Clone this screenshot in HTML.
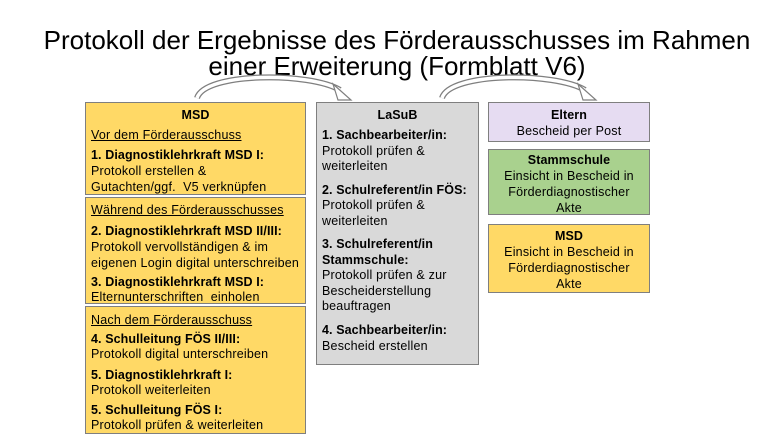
<!DOCTYPE html>
<html><head><meta charset="utf-8"><style>
body{margin:0;width:780px;height:439px;background:#fff;position:relative;overflow:hidden;font-family:"Liberation Sans",Arial,sans-serif;color:#000}
.box{position:absolute;box-sizing:border-box;border:1.5px solid #7f7f7f}
.t{position:absolute;font-size:12.5px;line-height:16px;white-space:nowrap;letter-spacing:0.2px}
.c{text-align:center}
b{font-weight:bold;letter-spacing:0.1px}
u{text-decoration:underline}
.title{position:absolute;left:0;width:794px;text-align:center;font-size:26px;line-height:28px}
</style></head><body>
<div class="title" style="top:26px">Protokoll der Ergebnisse des Förderausschusses im Rahmen</div>
<div class="title" style="top:52px">einer Erweiterung (Formblatt V6)</div>

<svg style="position:absolute;left:0;top:0" width="780" height="439">
<g fill="none" stroke-linecap="butt">
<path d="M197,98 C205,72 310,72 340,90" stroke="#7f7f7f" stroke-width="6"/>
<path d="M197,98 C205,72 310,72 340,90" stroke="#fff" stroke-width="3.5"/>
<path d="M442,98 C450,72 555,72 585,90" stroke="#7f7f7f" stroke-width="6"/>
<path d="M442,98 C450,72 555,72 585,90" stroke="#fff" stroke-width="3.5"/>
</g>
<polygon points="333,84 351,100 338,100" fill="#fff" stroke="#7f7f7f" stroke-width="1.2"/>
<polygon points="578,84 596,100 583,100" fill="#fff" stroke="#7f7f7f" stroke-width="1.2"/>
</svg>

<div class="box" style="left:85px;top:102px;width:221px;height:93px;background:#ffd966"></div>
<div class="box" style="left:85px;top:197px;width:221px;height:107px;background:#ffd966"></div>
<div class="box" style="left:85px;top:306px;width:221px;height:128px;background:#ffd966"></div>
<div class="box" style="left:316px;top:102px;width:163px;height:263px;background:#d9d9d9"></div>
<div class="box" style="left:488px;top:102px;width:162px;height:40px;background:#e6dcf2"></div>
<div class="box" style="left:488px;top:149px;width:162px;height:66px;background:#a9d18e"></div>
<div class="box" style="left:488px;top:224px;width:162px;height:69px;background:#ffd966"></div>

<div class="t c" style="left:85px;width:221px;top:107px"><b>MSD</b></div>
<div class="t" style="left:91px;top:127px"><u>Vor dem Förderausschuss</u></div>
<div class="t" style="left:91px;top:147px"><b>1. Diagnostiklehrkraft MSD I:</b></div>
<div class="t" style="left:91px;top:163px">Protokoll erstellen &amp;</div>
<div class="t" style="left:91px;top:179px">Gutachten/ggf.&nbsp; V5 verknüpfen</div>

<div class="t" style="left:91px;top:202px"><u>Während des Förderausschusses</u></div>
<div class="t" style="left:91px;top:223px"><b>2. Diagnostiklehrkraft MSD II/III:</b></div>
<div class="t" style="left:91px;top:239px">Protokoll vervollständigen &amp; im</div>
<div class="t" style="left:91px;top:255px">eigenen Login digital unterschreiben</div>
<div class="t" style="left:91px;top:274px"><b>3. Diagnostiklehrkraft MSD I:</b></div>
<div class="t" style="left:91px;top:289px">Elternunterschriften&nbsp; einholen</div>

<div class="t" style="left:91px;top:312px"><u>Nach dem Förderausschuss</u></div>
<div class="t" style="left:91px;top:331px"><b>4. Schulleitung FÖS II/III:</b></div>
<div class="t" style="left:91px;top:346px">Protokoll digital unterschreiben</div>
<div class="t" style="left:91px;top:367px"><b>5. Diagnostiklehrkraft I:</b></div>
<div class="t" style="left:91px;top:382px">Protokoll weiterleiten</div>
<div class="t" style="left:91px;top:402px"><b>5. Schulleitung FÖS I:</b></div>
<div class="t" style="left:91px;top:417px">Protokoll prüfen &amp; weiterleiten</div>

<div class="t c" style="left:316px;width:163px;top:107px"><b>LaSuB</b></div>
<div class="t" style="left:322px;top:127px"><b>1. Sachbearbeiter/in:</b></div>
<div class="t" style="left:322px;top:143px">Protokoll prüfen &amp;</div>
<div class="t" style="left:322px;top:158px">weiterleiten</div>
<div class="t" style="left:322px;top:182px"><b>2. Schulreferent/in FÖS:</b></div>
<div class="t" style="left:322px;top:197px">Protokoll prüfen &amp;</div>
<div class="t" style="left:322px;top:213px">weiterleiten</div>
<div class="t" style="left:322px;top:236px"><b>3. Schulreferent/in</b></div>
<div class="t" style="left:322px;top:252px"><b>Stammschule:</b></div>
<div class="t" style="left:322px;top:267px">Protokoll prüfen &amp; zur</div>
<div class="t" style="left:322px;top:283px">Bescheiderstellung</div>
<div class="t" style="left:322px;top:298px">beauftragen</div>
<div class="t" style="left:322px;top:322px"><b>4. Sachbearbeiter/in:</b></div>
<div class="t" style="left:322px;top:338px">Bescheid erstellen</div>

<div class="t c" style="left:488px;width:162px;top:107px"><b>Eltern</b></div>
<div class="t c" style="left:488px;width:162px;top:123px">Bescheid per Post</div>
<div class="t c" style="left:488px;width:162px;top:152px"><b>Stammschule</b></div>
<div class="t c" style="left:488px;width:162px;top:168px">Einsicht in Bescheid in</div>
<div class="t c" style="left:488px;width:162px;top:184px">Förderdiagnostischer</div>
<div class="t c" style="left:488px;width:162px;top:200px">Akte</div>
<div class="t c" style="left:488px;width:162px;top:228px"><b>MSD</b></div>
<div class="t c" style="left:488px;width:162px;top:244px">Einsicht in Bescheid in</div>
<div class="t c" style="left:488px;width:162px;top:260px">Förderdiagnostischer</div>
<div class="t c" style="left:488px;width:162px;top:276px">Akte</div>
</body></html>
